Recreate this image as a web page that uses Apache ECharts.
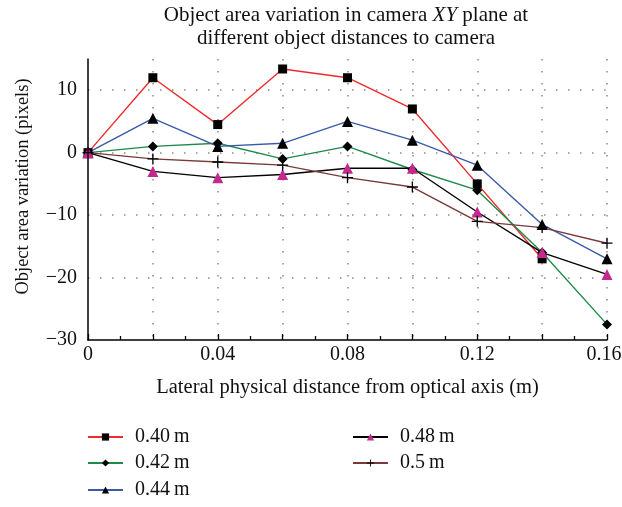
<!DOCTYPE html>
<html>
<head>
<meta charset="utf-8">
<script src="https://cdn.jsdelivr.net/npm/echarts@6/dist/echarts.min.js"></script>
<style>
  html, body { margin: 0; padding: 0; background: #fff; }
  #chart { width: 622px; height: 507px; }
</style>
</head>
<body>
<div id="chart"></div>
<script>
// Lateral distance from the optical axis (m)
const distances = [0, 0.02, 0.04, 0.06, 0.08, 0.10, 0.12, 0.14, 0.16];

// Object area variation (pixels) for each object-to-camera distance
const area040 = [0, 12.0, 4.5, 13.4, 12.0, 7.0, -5.0, -17.0];
const area042 = [0, 1.0, 1.5, -1.0, 1.0, -2.7, -6.0, -16.0, -27.5];
const area044 = [0, 5.5, 1.0, 1.5, 5.0, 2.0, -2.0, -11.5, -17.0];
const area048 = [0, -3.0, -4.0, -3.5, -2.5, -2.5, -9.5, -16.0, -19.5];
const area050 = [0, -1.0, -1.5, -2.0, -4.0, -5.5, -11.0, -12.0, -14.5];

const seriesNames = ['0.40\u2009m', '0.42\u2009m', '0.44\u2009m', '0.48\u2009m', '0.5\u2009m'];
const yTicks = [-30, -20, -10, 0, 10];

const FONT = '"Liberation Serif", "DejaVu Serif", serif';
const PLUS = 'path://M4.4,0H5.6V4.4H10V5.6H5.6V10H4.4V5.6H0V4.4H4.4Z';

function pairs(values) {
  return values.map((v, i) => [distances[i], v]);
}

function makeSeries(name, values, lineColor, symbol, symbolSize, markColor) {
  return {
    name: name,
    type: 'line',
    data: pairs(values),
    symbol: symbol,
    symbolSize: symbolSize,
    showAllSymbol: true,
    lineStyle: { color: lineColor, width: 1.4 },
    itemStyle: { color: markColor, borderWidth: 0 },
    emphasis: { disabled: true },
    animation: false
  };
}

// one legend entry per block so each sits at its own spot in the two columns
const legendSlots = [
  { name: seriesNames[0], left: 87, cy: 437 },
  { name: seriesNames[1], left: 87, cy: 463 },
  { name: seriesNames[2], left: 87, cy: 490 },
  { name: seriesNames[3], left: 352, cy: 437 },
  { name: seriesNames[4], left: 352, cy: 463 }
];

function makeLegend(slot) {
  return {
    orient: 'horizontal',
    left: slot.left,
    top: slot.cy - 11,
    padding: 0,
    itemWidth: 35,
    itemHeight: 9,
    itemGap: 0,
    data: [slot.name],
    textStyle: {
      fontFamily: FONT, fontSize: 20, color: '#111',
      padding: [0, 0, 0, 7], lineHeight: 22
    }
  };
}

const chart = echarts.init(document.getElementById('chart'), null, { renderer: 'canvas' });

const dotted = { color: '#8a8a8a', width: 1.5, type: [1.5, 10.5] };

chart.setOption({
  backgroundColor: '#ffffff',
  animation: false,
  title: {
    left: 346,
    top: 4,
    padding: 0,
    textAlign: 'center',
    text: '{a|Object area variation in camera }{i|XY}{a| plane at}\n{a|different object distances to camera}',
    textStyle: {
      fontWeight: 'normal',
      rich: {
        a: { fontFamily: FONT, fontSize: 21, fontWeight: 'normal', color: '#111', lineHeight: 23 },
        i: { fontFamily: FONT, fontSize: 21, fontWeight: 'normal', color: '#111', fontStyle: 'italic', lineHeight: 23 }
      }
    }
  },
  grid: {
    left: 88, right: 15, top: 59, bottom: 167,
    containLabel: false,
    outerBoundsMode: 'none'
  },
  xAxis: {
    type: 'value',
    min: 0,
    max: 0.16,
    interval: 0.02,
    name: 'Lateral physical distance from optical axis (m)',
    nameLocation: 'middle',
    nameGap: 37,
    nameTextStyle: { fontFamily: FONT, fontSize: 20.5, color: '#111' },
    axisLine: { show: true, onZero: false, lineStyle: { color: '#000', width: 1.5 } },
    axisTick: { show: true, inside: true, length: 6, lineStyle: { color: '#000', width: 1.3 } },
    minorTick: { show: true, splitNumber: 2, length: 4, lineStyle: { color: '#000', width: 1.3 } },
    axisLabel: {
      margin: 5,
      fontFamily: FONT, fontSize: 20, color: '#111',
      rich: {
        edge: { fontFamily: FONT, fontSize: 20, color: '#111', padding: [0, 6, 0, 0] }
      },
      formatter: function (v) {
        const k = Math.round(v * 100);
        if (k % 4 !== 0) return '';
        if (k === 0) return '0';
        const s = (k / 100).toFixed(2);
        // keep the last label inside the canvas edge
        return k === 16 ? '{edge|' + s + '}' : s;
      }
    },
    splitLine: { show: true, showMinLine: false, lineStyle: dotted }
  },
  yAxis: {
    type: 'value',
    min: yTicks[0],
    max: 15,
    interval: 10,
    name: 'Object area variation (pixels)',
    nameLocation: 'middle',
    nameGap: 55,
    nameTextStyle: { fontFamily: FONT, fontSize: 18.5, color: '#111', padding: [0, 0, 0, 26] },
    axisLine: { show: true, onZero: false, lineStyle: { color: '#000', width: 1.5 } },
    axisTick: { show: false },
    axisLabel: {
      margin: 11,
      showMaxLabel: false,
      fontFamily: FONT, fontSize: 20, color: '#111',
      formatter: function (v) {
        return yTicks.indexOf(v) >= 0 ? String(v).replace('-', '\u2212') : '';
      }
    },
    splitLine: { show: true, showMinLine: false, showMaxLine: false, lineStyle: dotted }
  },
  legend: legendSlots.map(makeLegend),
  series: [
    makeSeries(seriesNames[0], area040, '#ee2a2a', 'rect', 9, '#000000'),
    makeSeries(seriesNames[1], area042, '#1f8a4a', 'diamond', 10, '#000000'),
    makeSeries(seriesNames[2], area044, '#3a5aa8', 'triangle', 11, '#000000'),
    makeSeries(seriesNames[3], area048, '#000000', 'triangle', 11, '#c42a8e'),
    makeSeries(seriesNames[4], area050, '#7a3a3a', PLUS, 11, '#000000')
  ]
});
</script>
</body>
</html>
